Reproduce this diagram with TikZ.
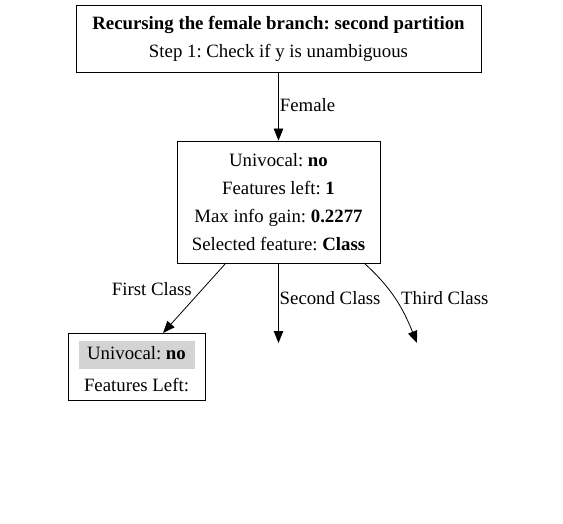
\documentclass[tikz,border=0pt]{standalone}
\usepackage{fontspec}
\setmainfont{Liberation Serif}
\frenchspacing
\usepackage{tikz}
\usetikzlibrary{arrows.meta,positioning}
\definecolor{cellGray}{RGB}{211,211,211}
\tikzset{
  stepbox/.style={
    rectangle, draw=black, thick,
    minimum width=#1, inner sep=0pt,
    align=center, font=\fontsize{18.8}{28}\selectfont
  },
  edgelbl/.style={font=\fontsize{18.8}{20}\selectfont, inner sep=1pt},
  myarr/.style={-{Triangle[length=12pt,width=9.5pt]}, thick},
}

\begin{document}
\begin{tikzpicture}[x=1pt,y=-1pt]
  \useasboundingbox (0,0) rectangle (563,524);

  % Row 1 — header
  \node[stepbox=405pt, minimum height=67pt] (head) at (278.5,38.5)
    {\textbf{Recursing the female branch: second partition}\\
     Step 1: Check if y is unambiguous};

  % Row 2 — split node
  \node[stepbox=203pt, minimum height=122pt] (split) at (278.5,202)
    {Univocal: \textbf{no}\\
     Features left: \textbf{1}\\
     Max info gain: \textbf{0.2277}\\
     Selected feature: \textbf{Class}};

  % Row 3 — leaf
  \node[stepbox=137pt, minimum height=67pt] (leaf) at (136.5,366.5)
    {\setlength{\fboxsep}{0pt}\colorbox{cellGray}{\makebox[116pt][c]{\rule[-10pt]{0pt}{28pt}Univocal: \textbf{no}}}\\[4pt]
     Features Left:};

  % open ends
  \coordinate (second) at (278.5,343);
  \coordinate (third)  at (417,343);
  \coordinate (fc) at (226,263);
  \coordinate (lc) at (163,333);
  \coordinate (tc) at (364,263);

  % Arrows
  \draw[myarr] (head) -- node[edgelbl, right, pos=0.48] {Female} (split);
  \draw[myarr] (fc) -- (lc);
  \node[edgelbl, anchor=east] (lfirst) at (193,289) {First Class};
  \draw[myarr] (split) -- (second);
  \node[edgelbl, anchor=west] (lsecond) at (278.5,298) {Second Class};
  \draw[myarr] (tc) to[out=-42,in=112] (third);
  \node[edgelbl, anchor=west] (lthird) at (400,298) {Third Class};
\end{tikzpicture}
\end{document}
